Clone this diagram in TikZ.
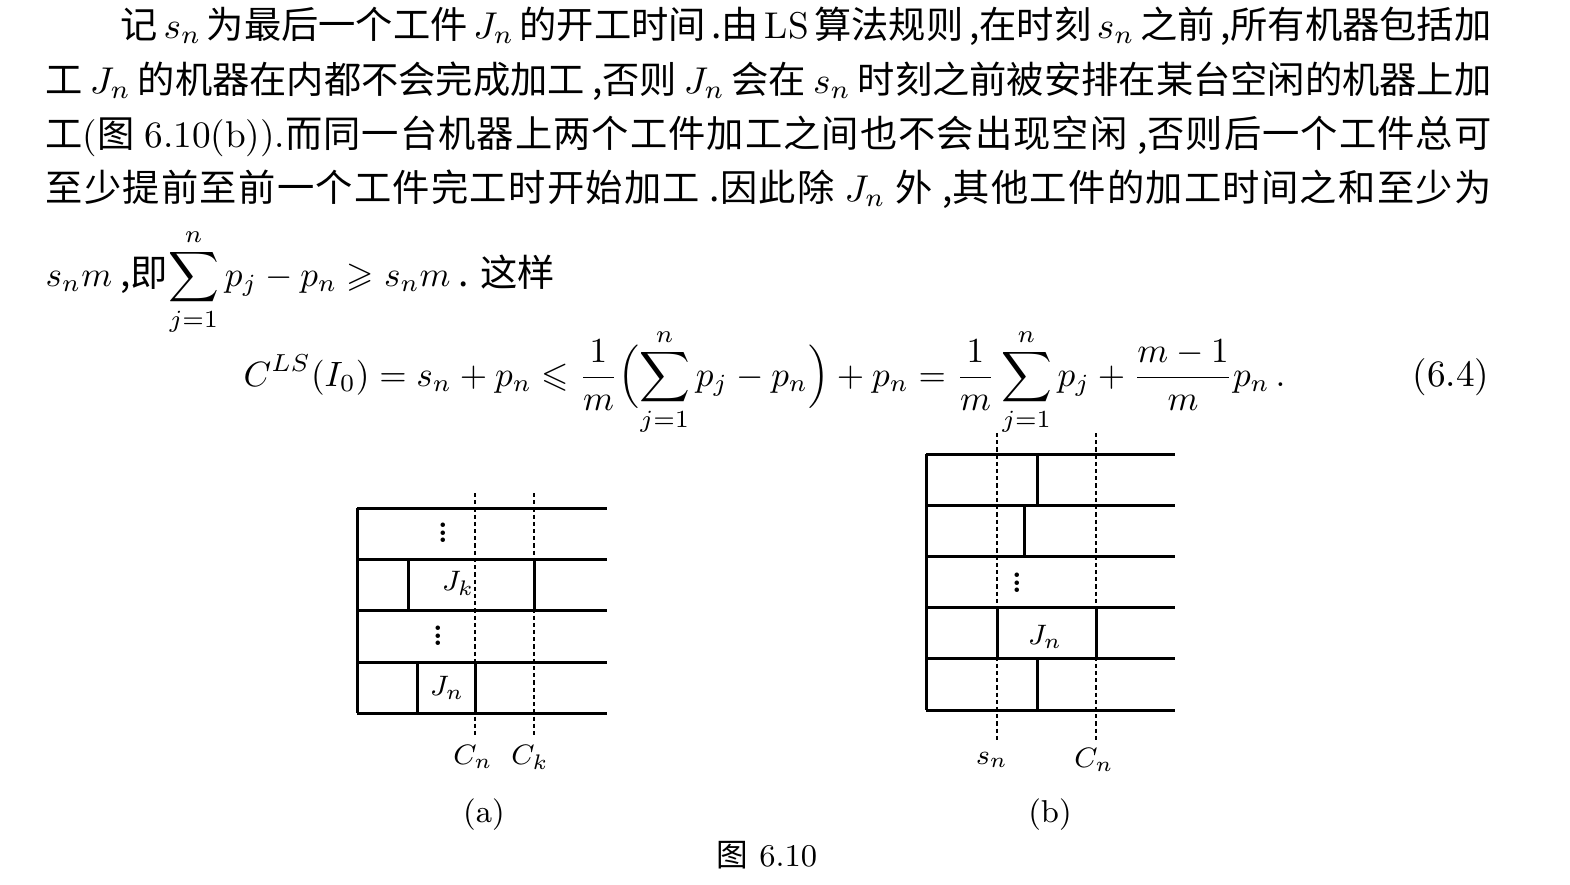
\RequirePackage{fix-cm}
\documentclass[tikz,border=0pt]{standalone}
\usepackage{amsmath,amssymb}
\usepackage[no-math]{fontspec}
\newfontfamily\cjk{Noto Sans CJK SC}
\newcommand{\txtsize}{\fontsize{10.6pt}{12pt}\selectfont}
\newcommand{\eqsize}{\fontsize{10pt}{12pt}\selectfont}
\newcommand{\vdotsmall}{\vbox{\baselineskip=2.1pt\lineskiplimit=-10pt\hbox{.}\hbox{.}\hbox{.}}}
\makeatletter
\count@="4E00
\loop\XeTeXcharclass\count@=7 \advance\count@ 1 \ifnum\count@<"A000 \repeat
\makeatother
\XeTeXinterchartokenstate=1
\XeTeXinterchartoks 7 7 = {\hskip 0pt plus 1pt\relax}
\begin{document}
\begin{tikzpicture}[x=0.01cm, y=-0.01cm,
  txtline/.style={anchor=west, inner sep=0pt, text height=0.88em, text depth=0.12em, font=\cjk\txtsize},
  chart/.style={line width=0.85pt},
  cut/.style={line width=0.5pt, dash pattern=on 1.2pt off 0.85pt},
  lab/.style={inner sep=0pt, font=\fontsize{8pt}{9pt}\selectfont},
  vdot/.style={inner sep=0pt, font=\fontsize{8pt}{9pt}\selectfont\bfseries},
  capt/.style={inner sep=0pt, font=\fontsize{9pt}{10pt}\selectfont}]
\useasboundingbox (0,0) rectangle (1570,884);

\node[txtline] (l1) at (120,25) {\makebox[13.7cm][s]{记 $s_n$ 为最后一个工件 $J_n$ 的开工时间 .由 \textrm{LS} 算法规则 ,在时刻 $s_n$ 之前 ,所有机器包括加}};
\node[txtline] (l2) at (45,80) {\makebox[14.45cm][s]{工 $J_n$ 的机器在内都不会完成加工 ,否则 $J_n$ 会在 $s_n$ 时刻之前被安排在某台空闲的机器上加}};
\node[txtline] (l3) at (45,134) {\makebox[14.45cm][s]{工\textrm{(}图 \textrm{6.10(b)).}而同一台机器上两个工件加工之间也不会出现空闲 ,否则后一个工件总可}};
\node[txtline] (l4) at (45,188) {\makebox[14.45cm][s]{至少提前至前一个工件完工时开始加工 .因此除 $J_n$ 外 ,其他工件的加工时间之和至少为}};
\node[txtline] (l5) at (45,273) {{\eqsize$s_n m$} ,即{\eqsize$\displaystyle\sum_{j=1}^{n} p_j - p_n \geqslant s_n m$} . 这样};

\node[anchor=base west, inner sep=0pt, font=\eqsize] (eq) at (243,386)
  {$\displaystyle C^{LS}(I_0)=s_n+p_n\leqslant\frac{1}{m}\Bigl(\sum_{j=1}^{n}p_j-p_n\Bigr)+p_n=\frac{1}{m}\sum_{j=1}^{n}p_j+\frac{m-1}{m}p_n\,.$};
\node[anchor=base east, inner sep=0pt, font=\txtsize] (eqno) at (1490,386) {(6.4)};

\draw[chart] (357,508) -- (357,713);
\foreach \y in {508,559,610,662,713}
  \draw[chart] (357,\y) -- (607,\y);
\draw[chart] (408,559) -- (408,610);
\draw[chart] (534,559) -- (534,610);
\draw[chart] (417,662) -- (417,713);
\draw[chart] (475,662) -- (475,713);
\draw[cut] (475,493) -- (475,738);
\draw[cut] (534,493) -- (534,738);
\node[vdot] (da1) at (443,533) {\vdotsmall};
\node[vdot] (da2) at (438,636) {\vdotsmall};
\node[lab] (jk) at (458,583) {$J_k$};
\node[lab] (jna) at (447,688) {$J_n$};
\node[lab] (cna) at (473,757) {$C_n$};
\node[lab] (cka) at (530,757) {$C_k$};
\node[capt] (capa) at (484,815) {(a)};

\draw[chart] (926,454) -- (926,710);
\foreach \y in {454,505,556,607,658,710}
  \draw[chart] (926,\y) -- (1175,\y);
\draw[chart] (1037,454) -- (1037,505);
\draw[chart] (1024,505) -- (1024,556);
\draw[chart] (997,607) -- (997,658);
\draw[chart] (1096,607) -- (1096,658);
\draw[chart] (1037,658) -- (1037,710);
\draw[cut] (997,433) -- (997,742);
\draw[cut] (1096,433) -- (1096,742);
\node[vdot] (db) at (1017,583) {\vdotsmall};
\node[lab] (jnb) at (1045,637) {$J_n$};
\node[lab] (snb) at (992,760) {$s_n$};
\node[lab] (cnb) at (1094,760) {$C_n$};
\node[capt] (capb) at (1050,815) {(b)};

\node[capt] (fig) at (767,855) {{\cjk 图} 6.10};
\end{tikzpicture}
\end{document}
